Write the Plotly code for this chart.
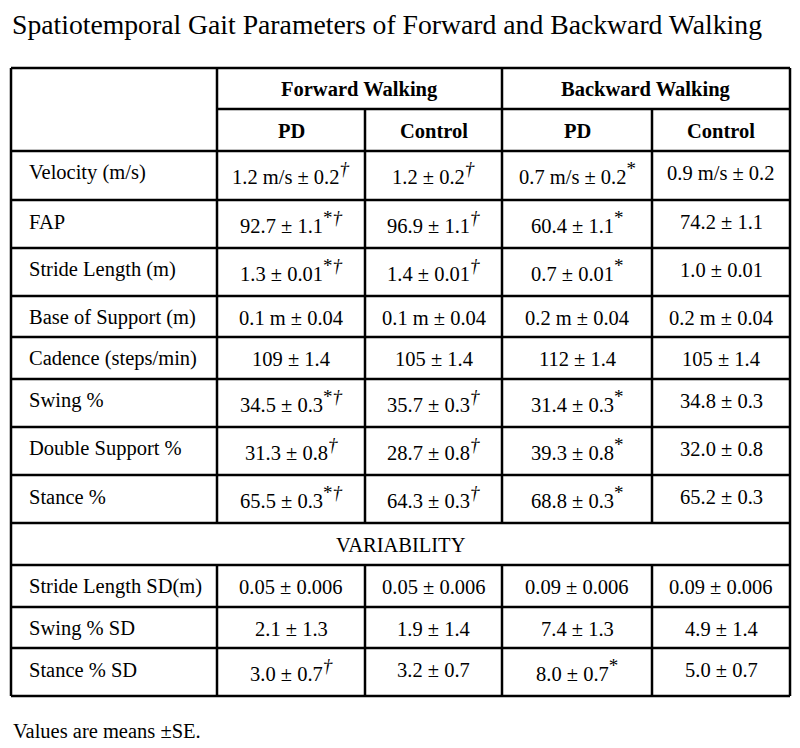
import plotly.graph_objects as go

# ---------------- data ----------------
title = "Spatiotemporal Gait Parameters of Forward and Backward Walking"
footnote = "Values are means ±SE."
groups = ["Forward Walking", "Backward Walking"]
subgroups = ["PD", "Control", "PD", "Control"]
section_label = "VARIABILITY"

params = ["Velocity (m/s)", "FAP", "Stride Length (m)", "Base of Support (m)",
          "Cadence (steps/min)", "Swing %", "Double Support %", "Stance %"]
fwd_pd = ["1.2 m/s ± 0.2", "92.7 ± 1.1", "1.3 ± 0.01", "0.1 m ± 0.04",
          "109 ± 1.4", "34.5 ± 0.3", "31.3 ± 0.8", "65.5 ± 0.3"]
fwd_pd_sig = ["†", "*†", "*†", "", "", "*†", "†", "*†"]
fwd_ctrl = ["1.2 ± 0.2", "96.9 ± 1.1", "1.4 ± 0.01", "0.1 m ± 0.04",
            "105 ± 1.4", "35.7 ± 0.3", "28.7 ± 0.8", "64.3 ± 0.3"]
fwd_ctrl_sig = ["†", "†", "†", "", "", "†", "†", "†"]
bwd_pd = ["0.7 m/s ± 0.2", "60.4 ± 1.1", "0.7 ± 0.01", "0.2 m ± 0.04",
          "112 ± 1.4", "31.4 ± 0.3", "39.3 ± 0.8", "68.8 ± 0.3"]
bwd_pd_sig = ["*", "*", "*", "", "", "*", "*", "*"]
bwd_ctrl = ["0.9 m/s ± 0.2", "74.2 ± 1.1", "1.0 ± 0.01", "0.2 m ± 0.04",
            "105 ± 1.4", "34.8 ± 0.3", "32.0 ± 0.8", "65.2 ± 0.3"]
bwd_ctrl_sig = ["", "", "", "", "", "", "", ""]

var_params = ["Stride Length SD(m)", "Swing % SD", "Stance % SD"]
var_fwd_pd = ["0.05 ± 0.006", "2.1 ± 1.3", "3.0 ± 0.7"]
var_fwd_pd_sig = ["", "", "†"]
var_fwd_ctrl = ["0.05 ± 0.006", "1.9 ± 1.4", "3.2 ± 0.7"]
var_fwd_ctrl_sig = ["", "", ""]
var_bwd_pd = ["0.09 ± 0.006", "7.4 ± 1.3", "8.0 ± 0.7"]
var_bwd_pd_sig = ["", "", "*"]
var_bwd_ctrl = ["0.09 ± 0.006", "4.9 ± 1.4", "5.0 ± 0.7"]
var_bwd_ctrl_sig = ["", "", ""]

# ---------------- layout constants (pixels) ----------------
W, H = 800, 748
X_EDGES = [11, 217, 365, 502, 652, 790]
HEAD_Y = [68, 109, 151]
ROW_EDGES = [151, 200, 248, 296, 337, 379, 427, 475, 523]
SEC_EDGES = [523, 565]
VAR_EDGES = [565, 607, 648, 696]
LABEL_X = 27
TEXT_DY = 21.5
FONT = "Liberation Serif"
FS = 20.5
SUP_FS = 19
LW = 2.5

fig = go.Figure()
fig.add_trace(go.Scatter(x=[0, W], y=[0, H], mode="markers",
                         marker=dict(opacity=0), hoverinfo="skip"))

ann = []
def txt(x, y, s, xanchor="center", size=FS, bold=False):
    if bold:
        s = "<b>" + s + "</b>"
    ann.append(dict(x=x, y=y, xref="x", yref="y", text=s, showarrow=False,
                    xanchor=xanchor, yanchor="middle",
                    font=dict(family=FONT, size=size, color="black")))

def sig_html(s):
    if not s:
        return ""
    inner = s.replace("†", "<i>†</i>")
    return "<sup><span style='font-size:%gpx'>%s</span></sup>" % (SUP_FS, inner)

col_centers = [(X_EDGES[i] + X_EDGES[i + 1]) / 2 for i in range(1, 5)]

# title / footnote
txt(10, 24, title, xanchor="left", size=27.7)
txt(11, 731, footnote, xanchor="left")

# header
txt((X_EDGES[1] + X_EDGES[3]) / 2, (HEAD_Y[0] + HEAD_Y[1]) / 2 + 1, groups[0], bold=True)
txt((X_EDGES[3] + X_EDGES[5]) / 2, (HEAD_Y[0] + HEAD_Y[1]) / 2 + 1, groups[1], bold=True)
for i, sg in enumerate(subgroups):
    txt(col_centers[i], (HEAD_Y[1] + HEAD_Y[2]) / 2 + 1, sg, bold=True)

def add_rows(edges, labels, cols):
    for r, lab in enumerate(labels):
        top = edges[r]
        txt(LABEL_X, top + TEXT_DY, lab, xanchor="left")
        for c, (vals, sigs) in enumerate(cols):
            txt(col_centers[c], top + TEXT_DY, vals[r] + sig_html(sigs[r]))

add_rows(ROW_EDGES, params, [(fwd_pd, fwd_pd_sig), (fwd_ctrl, fwd_ctrl_sig),
                             (bwd_pd, bwd_pd_sig), (bwd_ctrl, bwd_ctrl_sig)])
txt((X_EDGES[0] + X_EDGES[5]) / 2, SEC_EDGES[0] + TEXT_DY, section_label)
add_rows(VAR_EDGES, var_params, [(var_fwd_pd, var_fwd_pd_sig), (var_fwd_ctrl, var_fwd_ctrl_sig),
                                 (var_bwd_pd, var_bwd_pd_sig), (var_bwd_ctrl, var_bwd_ctrl_sig)])

# grid lines
shapes = []
def line(x0, y0, x1, y1):
    shapes.append(dict(type="line", xref="x", yref="y", x0=x0, y0=y0, x1=x1, y1=y1,
                       line=dict(color="black", width=LW)))

L, R = X_EDGES[0], X_EDGES[5]
line(L, HEAD_Y[0], R, HEAD_Y[0])
line(X_EDGES[1], HEAD_Y[1], R, HEAD_Y[1])
for y in ROW_EDGES + SEC_EDGES[1:] + VAR_EDGES[1:]:
    line(L, y, R, y)
line(L, HEAD_Y[0], L, VAR_EDGES[-1])
line(R, HEAD_Y[0], R, VAR_EDGES[-1])
for i in range(1, 5):
    y_start = HEAD_Y[0] if i in (1, 3) else HEAD_Y[1]
    line(X_EDGES[i], y_start, X_EDGES[i], SEC_EDGES[0])
    line(X_EDGES[i], SEC_EDGES[1], X_EDGES[i], VAR_EDGES[-1])

fig.update_layout(
    width=W, height=H, margin=dict(l=0, r=0, t=0, b=0),
    paper_bgcolor="white", plot_bgcolor="white", showlegend=False,
    xaxis=dict(range=[0, W], visible=False, fixedrange=True),
    yaxis=dict(range=[H, 0], visible=False, fixedrange=True),
    annotations=ann, shapes=shapes,
)
fig.write_html("out.html", config={"displayModeBar": False},
               post_script="document.body.style.margin='0';")
